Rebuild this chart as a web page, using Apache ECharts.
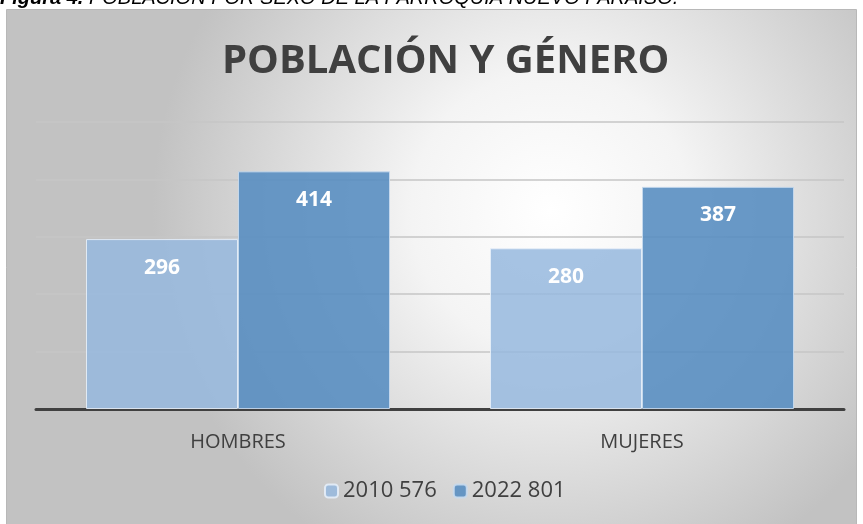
<!DOCTYPE html>
<html><head><meta charset="utf-8">
<script src="https://cdn.jsdelivr.net/npm/echarts@6/dist/echarts.min.js"></script>
<style>html,body{margin:0;padding:0;background:#fff}#c{width:863px;height:524px}</style>
</head><body><div id="c"></div>
<script>
const categories = ['HOMBRES', 'MUJERES'];
const seriesNames = ['2010 576', '2022 801'];
const values2010 = [296, 280];
const values2022 = [414, 387];
const yTicks = [0, 100, 200, 300, 400, 500];

const chart = echarts.init(document.getElementById('c'));
const FONT = 'Open Sans';
const label = {
  show: true, position: 'insideTop', distance: 18,
  color: '#ffffff', fontWeight: 'bold', fontSize: 21, fontFamily: FONT
};
chart.setOption({
  animation: false,
  textStyle: { fontFamily: FONT },
  graphic: [
    { type: 'rect', z: -10, silent: true,
      shape: { x: 6.5, y: 9.5, width: 850, height: 530 },
      style: {
        fill: { type: 'radial', x: 0.64, y: 0.38, r: 0.75,
          colorStops: [{ offset: 0, color: '#ffffff' }, { offset: 0.35, color: '#f4f4f4' }, { offset: 1, color: '#c2c2c2' }] },
        stroke: '#b8b8b8', lineWidth: 1
      } },
    { type: 'text', left: 0, top: -12, silent: true,
      style: { text: '{b|Figura 4.} POBLACIÓN POR SEXO DE LA PARROQUIA NUEVO PARAISO.',
        rich: { b: { fontWeight: 'bold', fontStyle: 'italic', fontSize: 20, fontFamily: 'Liberation Sans', fill: '#000' } },
        fontStyle: 'italic', fontSize: 20, fontFamily: 'Liberation Sans', fill: '#000' } }
  ],
  title: {
    text: 'POBLACIÓN Y GÉNERO', left: 217, top: 37,
    textStyle: { color: '#404040', fontWeight: 'bold', fontSize: 40, fontFamily: FONT }
  },
  legend: {
    bottom: 17, left: 319, itemWidth: 13, itemHeight: 13, itemGap: 16,
    data: seriesNames,
    textStyle: { color: '#404040', fontSize: 22, fontFamily: FONT }
  },
  grid: { left: 36, right: 19, top: 122, bottom: 115 },
  xAxis: {
    type: 'category', data: categories,
    axisLine: { lineStyle: { color: '#404040', width: 3 } },
    axisTick: { show: false },
    axisLabel: { color: '#404040', fontSize: 20, margin: 23, fontFamily: FONT }
  },
  yAxis: {
    type: 'value', min: yTicks[0], max: yTicks[yTicks.length - 1], interval: 100,
    axisLabel: { show: false }, axisLine: { show: false }, axisTick: { show: false },
    splitLine: { lineStyle: { color: '#c6c6c6', width: 1.5 } }
  },
  series: [
    { name: seriesNames[0], type: 'bar', data: values2010, barWidth: 152, barGap: '0%',
      itemStyle: { color: 'rgba(150,184,222,0.85)', borderColor: 'rgba(230,238,248,0.9)', borderWidth: 1 },
      label },
    { name: seriesNames[1], type: 'bar', data: values2022, barWidth: 152, barGap: '0%',
      itemStyle: { color: 'rgba(85,140,192,0.88)', borderColor: 'rgba(200,218,238,0.9)', borderWidth: 1 },
      label }
  ]
});
</script></body></html>
